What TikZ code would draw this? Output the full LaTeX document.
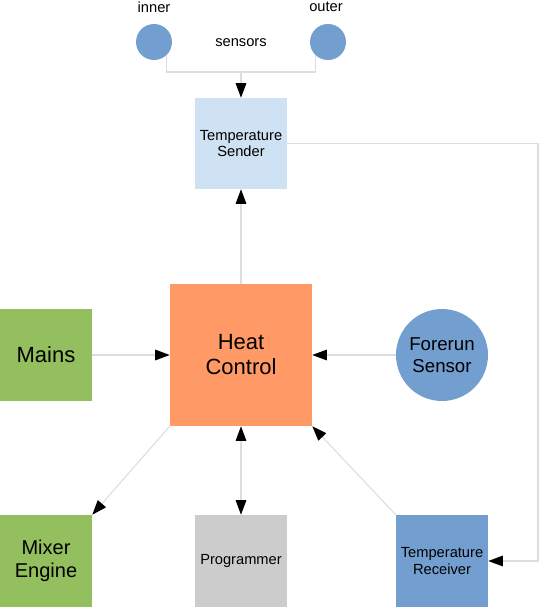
\documentclass[tikz,border=0pt]{standalone}
\usepackage{fontspec}
\setmainfont{Liberation Sans}
\usetikzlibrary{arrows.meta}
\definecolor{sendc}{HTML}{CFE2F3}
\definecolor{hcc}{HTML}{FF9966}
\definecolor{greenc}{HTML}{93BF5E}
\definecolor{bluec}{HTML}{729FCF}
\definecolor{grayc}{HTML}{CCCCCC}
\definecolor{linec}{HTML}{DDDDDD}
\begin{document}
\begin{tikzpicture}[x=0.75pt,y=-0.75pt,
  box/.style={rectangle, inner sep=0pt, align=center, text=black},
  sq/.style={box, minimum width=69pt, minimum height=69pt},
  dot/.style={circle, inner sep=0pt, fill=bluec, minimum size=27pt},
  small/.style={font=\fontsize{11pt}{12.5pt}\selectfont},
  mid/.style={font=\fontsize{14pt}{16.5pt}\selectfont},
  big/.style={font=\fontsize{16.5pt}{18.75pt}\selectfont},
  line/.style={draw=linec, line width=0.8pt},
  tip/.style={Triangle[length=11pt,width=8pt,fill=black,color=black]},
  arr/.style={line, -{Triangle[length=11pt,width=8pt,fill=black,color=black]}},
  darr/.style={line, {Triangle[length=11pt,width=8pt,fill=black,color=black]}-{Triangle[length=11pt,width=8pt,fill=black,color=black]}}
]
\useasboundingbox (0,0) rectangle (539,607);
% sensors
\node[dot] (inner) at (154,42) {};
\node[dot] (outer) at (328,42) {};
\node[box, small] (innerl) at (154,7) {inner};
\node[box, small] (outerl) at (326,7) {outer};
\node[box, small] (sensors) at (241,43) {sensors};
\coordinate (j) at (241,72);
% boxes
\node[sq, fill=sendc, small, minimum height=68.25pt] (sender) at (241,143.5) {Temperature\\Sender};
\node[box, fill=hcc, big, minimum width=106.5pt, minimum height=106.5pt] (hc) at (241,355) {Heat\\Control};
\node[sq, fill=greenc, big] (mains) at (46,355) {Mains};
\node[circle, inner sep=0pt, fill=bluec, minimum size=69pt, align=center, mid] (fore) at (442,355) {Forerun\\Sensor};
\node[sq, fill=greenc, font=\fontsize{15pt}{17.5pt}\selectfont] (mixer) at (46,561) {Mixer\\Engine};
\node[sq, fill=grayc, small] (prog) at (241,561) {Programmer};
\node[sq, fill=bluec, small] (recv) at (442,561) {Temperature\\Receiver};
\coordinate (rc) at (538,561);
% connectors
\draw[line] (inner.-45) |- (j) -| (outer.-135);
\draw[arr] (j) -- (sender.north);
\draw[arr] (sender.east) -| (rc) -- (recv.east);
\draw[arr] (hc.north) -- (sender.south);
\draw[arr] (mains.east) -- (hc.west);
\draw[arr] (fore.west) -- (hc.east);
\draw[arr] (hc.south west) -- (mixer.north east);
\draw[darr] (hc.south) -- (prog.north);
\draw[arr] (recv.north west) -- (hc.south east);
\end{tikzpicture}
\end{document}
